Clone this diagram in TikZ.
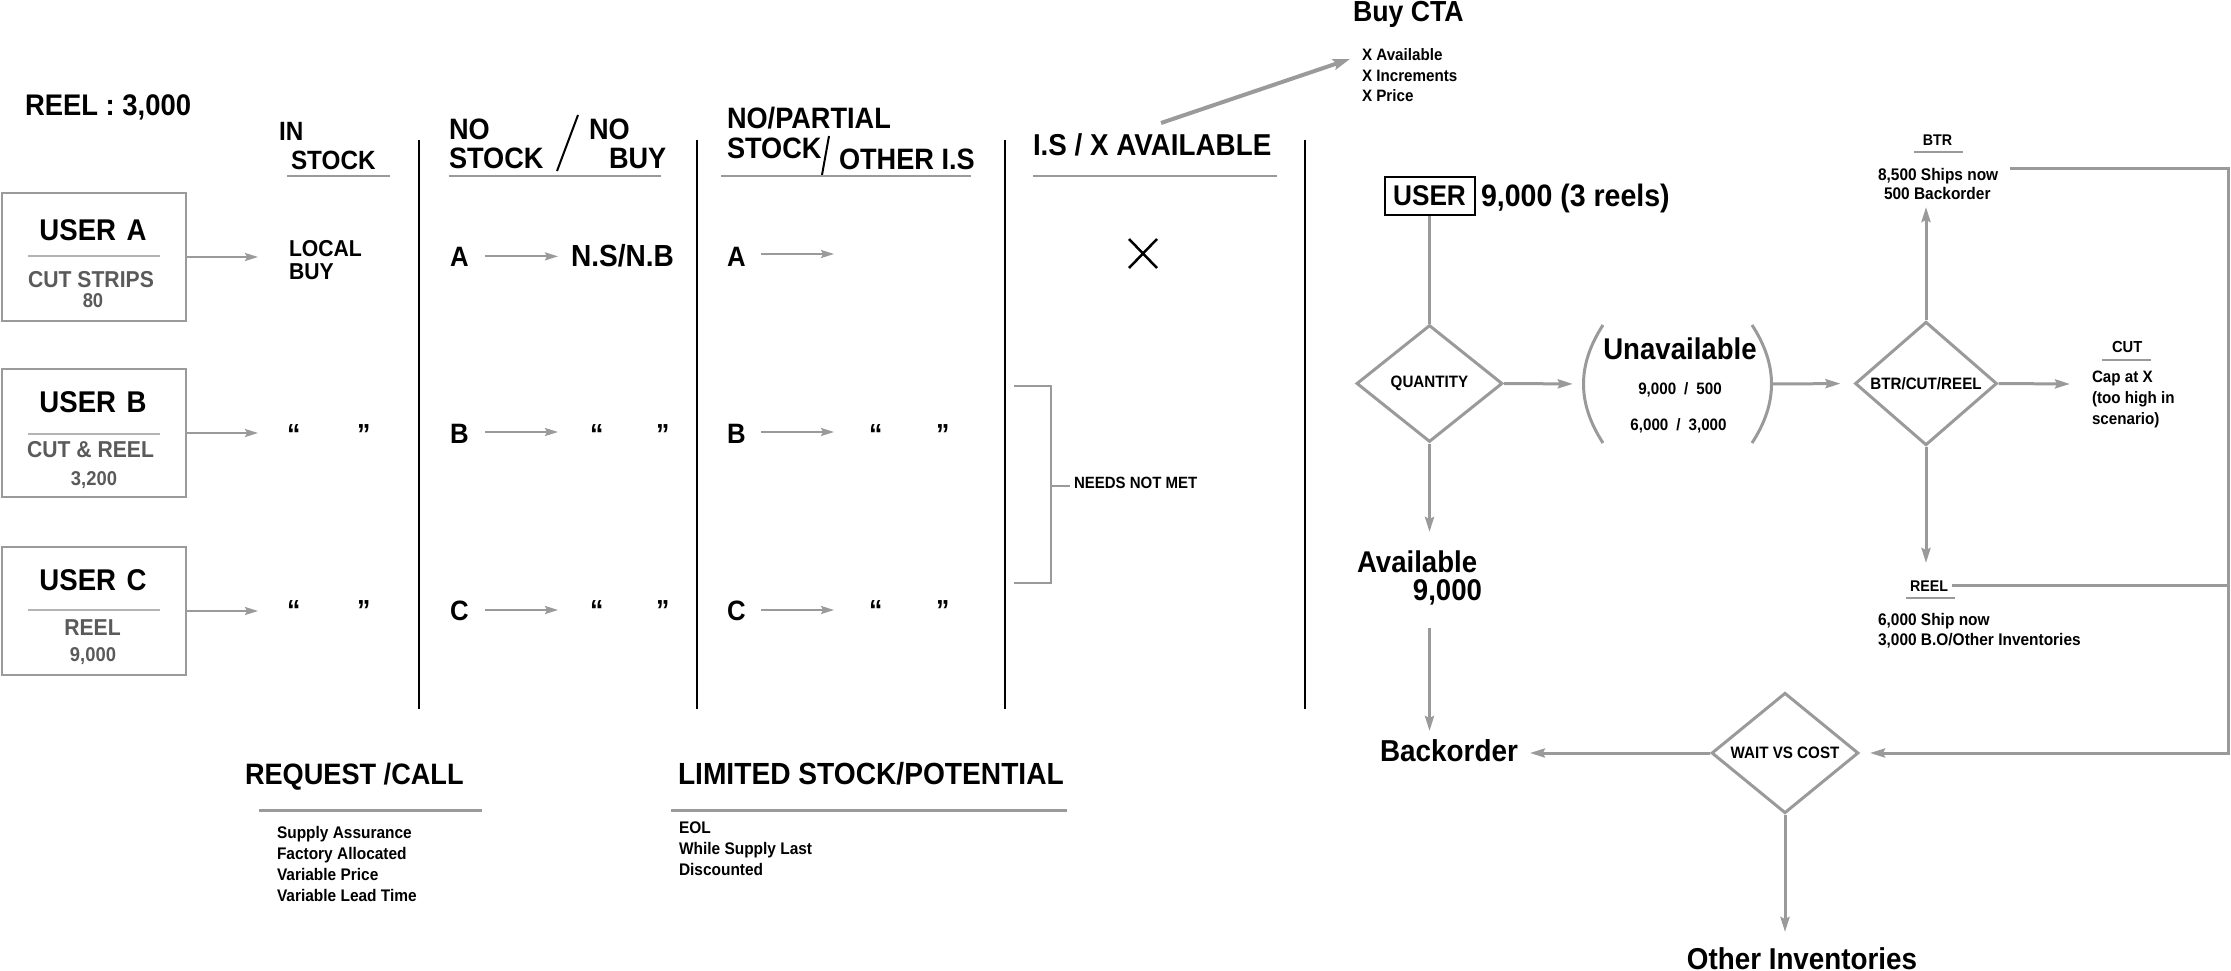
\documentclass[tikz,border=0pt]{standalone}
\usepackage{fontspec}
\setmainfont{Liberation Sans}[FakeStretch=0.92]
\usetikzlibrary{arrows.meta,shapes.geometric}
\definecolor{ln}{HTML}{9A9A9A}
\definecolor{gt}{HTML}{5A5A5A}
\definecolor{sp}{HTML}{B4B4B4}
\newcommand\fz[1]{\fontsize{#1}{#1}\selectfont\bfseries}
\tikzset{
 t/.style={inner sep=0pt,outer sep=0pt,anchor=base west},
 tc/.style={inner sep=0pt,outer sep=0pt,anchor=base},
 te/.style={inner sep=0pt,outer sep=0pt,anchor=base east},
 uline/.style={draw=ln,line width=2.5pt},
 sline/.style={draw=ln,line width=2pt},
 colline/.style={draw=black,line width=2.5pt},
 sarr/.style={draw=ln,line width=2pt,-{Stealth[length=13pt,width=8pt,inset=2pt]}},
 farr/.style={draw=ln,line width=3pt,-{Stealth[length=15pt,width=9pt,inset=2pt]}},
 fline/.style={draw=ln,line width=3pt},
 ubox/.style={draw=ln,line width=2.5pt,minimum width=184pt,minimum height=128pt,inner sep=0pt},
 dia/.style={diamond,draw=ln,line width=3pt,inner sep=0pt,font=\fz{16.5}},
}
\begin{document}
\begin{tikzpicture}[x=1pt,y=-1pt]
\useasboundingbox (0,0) rectangle (2231,971);

% ---------- left title and users ----------
\node[t,font=\fz{29.8}] (reel) at (25,116) {REEL : 3,000};

\node[ubox] (uA) at (94,257) {};
\node[tc,font=\fz{30}] (uAt) at (93,240) {USER\hspace{0.35em}A};
\draw[draw=sp,line width=1.5pt] (28,256) -- (160,256);
\node[tc,font=\fz{23},text=gt] (uAs) at (91,287) {CUT STRIPS};
\node[tc,font=\fz{20},text=gt] (uAn) at (93,307) {80};

\node[ubox] (uB) at (94,433) {};
\node[tc,font=\fz{30}] (uBt) at (93,412) {USER\hspace{0.35em}B};
\draw[draw=sp,line width=1.5pt] (28,434) -- (160,434);
\node[tc,font=\fz{23},text=gt] (uBs) at (90.5,457) {CUT \& REEL};
\node[tc,font=\fz{20},text=gt] (uBn) at (94,485) {3,200};

\node[ubox] (uC) at (94,611) {};
\node[tc,font=\fz{30}] (uCt) at (93,590) {USER\hspace{0.35em}C};
\draw[draw=sp,line width=1.5pt] (28,610) -- (160,610);
\node[tc,font=\fz{23},text=gt] (uCs) at (92.5,635) {REEL};
\node[tc,font=\fz{20},text=gt] (uCn) at (93,661) {9,000};

\coordinate (aA) at (258,257);
\coordinate (aB) at (258,433);
\coordinate (aC) at (258,611);
\draw[sarr] (uA.east) -- (aA);
\draw[sarr] (uB.east) -- (aB);
\draw[sarr] (uC.east) -- (aC);

% ---------- column 1: IN STOCK ----------
\node[t,font=\fz{26.4}] (in1) at (279,141) {IN};
\node[t,font=\fz{26.4}] (in2) at (291,170) {STOCK};
\draw[uline] (287,176) -- (390,176);
\node[t,font=\fz{23}] (lb1) at (289,256) {LOCAL};
\node[t,font=\fz{23}] (lb2) at (289,279) {BUY};
\node[t,font=\fz{29}] (q1a) at (287,444) {“};
\node[t,font=\fz{29}] (q1b) at (357,444) {”};
\node[t,font=\fz{29}] (q1c) at (287,620) {“};
\node[t,font=\fz{29}] (q1d) at (357,620) {”};

% column separators
\draw[colline] (419,140) -- (419,709);
\draw[colline] (697,140) -- (697,709);
\draw[colline] (1005,140) -- (1005,709);
\draw[colline] (1305,140) -- (1305,709);

% ---------- column 2: NO STOCK / NO BUY ----------
\node[t,font=\fz{29.5}] (h2a) at (449,140) {NO};
\node[t,font=\fz{29.5}] (h2b) at (449,168) {STOCK};
\draw[draw=black,line width=2pt] (578,115) -- (557,171);
\node[t,font=\fz{29.5}] (h2c) at (589,140) {NO};
\node[t,font=\fz{29.5}] (h2d) at (609,168) {BUY};
\draw[uline] (449,176) -- (661,176);

\node[t,font=\fz{28}] (a2) at (450,266) {A};
\node[t,font=\fz{30.5}] (ns) at (571,266) {N.S/N.B};
\draw[sarr] ([xshift=16pt]a2.east) -- ([xshift=-13pt]ns.west |- a2.east);
\node[t,font=\fz{28}] (b2) at (450,443) {B};
\coordinate (b2e) at (558,432);
\draw[sarr] (485,432) -- (b2e);
\node[t,font=\fz{29}] (q2a) at (590,444) {“};
\node[t,font=\fz{29}] (q2b) at (656,444) {”};
\node[t,font=\fz{28}] (c2) at (450,620) {C};
\coordinate (c2e) at (558,610);
\draw[sarr] (485,610) -- (c2e);
\node[t,font=\fz{29}] (q2c) at (590,620) {“};
\node[t,font=\fz{29}] (q2d) at (656,620) {”};

% ---------- column 3: NO/PARTIAL STOCK / OTHER I.S ----------
\node[t,font=\fz{29.5}] (h3a) at (727,129) {NO/PARTIAL};
\node[t,font=\fz{29.5}] (h3b) at (727,158.6) {STOCK};
\draw[draw=black,line width=2pt] (829,136) -- (822,175);
\node[t,font=\fz{29.5}] (h3c) at (839,169) {OTHER I.S};
\draw[uline] (721,176) -- (971,176);

\node[t,font=\fz{28}] (a3) at (727,266) {A};
\coordinate (a3e) at (834,254);
\draw[sarr] (761,254) -- (a3e);
\node[t,font=\fz{28}] (b3) at (727,443) {B};
\coordinate (b3e) at (834,432);
\draw[sarr] (761,432) -- (b3e);
\node[t,font=\fz{29}] (q3a) at (869,444) {“};
\node[t,font=\fz{29}] (q3b) at (936,444) {”};
\node[t,font=\fz{28}] (c3) at (727,620) {C};
\coordinate (c3e) at (834,610);
\draw[sarr] (761,610) -- (c3e);
\node[t,font=\fz{29}] (q3c) at (869,620) {“};
\node[t,font=\fz{29}] (q3d) at (936,620) {”};

% ---------- column 4: I.S / X AVAILABLE ----------
\node[t,font=\fz{30.2}] (h4) at (1033,155.5) {I.S / X AVAILABLE};
\draw[uline] (1033,176) -- (1277,176);
\draw[draw=black,line width=2.5pt] (1129,239) -- (1157,268) (1129,268) -- (1157,239);
\draw[sline] (1014,386) -- (1051,386) -- (1051,583) -- (1014,583);
\draw[sline] (1051,486) -- (1070,486);
\node[t,font=\fz{16.3}] (nnm) at (1074,488.5) {NEEDS NOT MET};

% ---------- Buy CTA ----------
\node[t,font=\fz{29}] (cta) at (1353,22) {Buy CTA};
\node[t,font=\fz{16.5}] (x1) at (1362,61) {X Available};
\node[t,font=\fz{16.5}] (x2) at (1362,82) {X Increments};
\node[t,font=\fz{16.5}] (x3) at (1362,102) {X Price};
\coordinate (ctaS) at (1161,123);
\coordinate (ctaE) at (1350,59);
\draw[draw=ln,line width=4pt,-{Stealth[length=17pt,width=11pt,inset=3pt]}] (ctaS) -- (ctaE);

% ---------- bottom left lists ----------
\node[t,font=\fz{29.5}] (rq) at (245,784) {REQUEST /CALL};
\draw[draw=ln,line width=3pt] (259,810) -- (482,810);
\node[t,font=\fz{16.8}] (r1) at (277,838) {Supply Assurance};
\node[t,font=\fz{16.8}] (r2) at (277,859) {Factory Allocated};
\node[t,font=\fz{16.8}] (r3) at (277,880) {Variable Price};
\node[t,font=\fz{16.8}] (r4) at (277,901) {Variable Lead Time};

\node[t,font=\fz{30.6}] (ls) at (678,784) {LIMITED STOCK/POTENTIAL};
\draw[draw=ln,line width=3pt] (671,810) -- (1067,810);
\node[t,font=\fz{16.8}] (l1) at (679,833) {EOL};
\node[t,font=\fz{16.8}] (l2) at (679,854) {While Supply Last};
\node[t,font=\fz{16.8}] (l3) at (679,875) {Discounted};

% ---------- right flowchart ----------
\node[draw=black,line width=2pt,minimum width=90pt,minimum height=38pt,inner sep=0pt,font=\fz{28.5}] (user) at (1429.5,196) {USER};
\node[t,font=\fz{31}] (userq) at (1481,207) {9,000 (3 reels)};

\node[dia,minimum width=146pt,minimum height=117pt] (quant) at (1429.5,383.5) {QUANTITY};
\draw[fline] (user.south) -- (quant.north);

\node[minimum width=189pt,minimum height=118pt,inner sep=0pt] (unav) at (1677.5,384) {};
\draw[fline] (1603,325) .. controls (1577,365) and (1577,403) .. (1603,443);
\draw[fline] (1752,325) .. controls (1778,365) and (1778,403) .. (1752,443);
\node[tc,font=\fz{30}] (unt) at (1680,359) {Unavailable};
\node[tc,font=\fz{16.5}] (un1) at (1680,394) {9,000\hspace{8pt}/\hspace{8pt}500};
\node[tc,font=\fz{16.5}] (un2) at (1678.5,430) {6,000\hspace{8pt}/\hspace{8pt}3,000};
\draw[farr,shorten >=10pt] (quant.east) -- (unav.west);

\node[dia,minimum width=142pt,minimum height=117pt] (btr) at (1926,383.5) {BTR/CUT/REEL};
\draw[farr,shorten >=13pt] (unav.east) -- (btr.west);

\node[t,font=\fz{30}] (avail) at (1357,572) {Available};
\node[te,font=\fz{30}] (avail9) at (1482,600) {9,000};
\coordinate (availE) at (1429.5,532);
\draw[farr] (quant.south) -- (availE);

\node[t,font=\fz{30.3}] (back) at (1380,761) {Backorder};
\coordinate (backS) at (1429.5,628);
\coordinate (backE) at (1429.5,731);
\draw[farr] (backS) -- (backE);

% BTR branch
\coordinate (btrE) at (1926,207);
\draw[farr] (btr.north) -- (btrE);
\node[tc,font=\fz{15.5}] (btrl) at (1937.5,146) {BTR};
\draw[sline] (1914,152) -- (1963,152);
\node[t,font=\fz{16.8}] (btr1) at (1878,180) {8,500 Ships now};
\node[t,font=\fz{16.8}] (btr2) at (1884,199) {500 Backorder};

% CUT branch
\coordinate (cutE) at (2070,384);
\draw[farr] (btr.east) -- (cutE);
\node[t,font=\fz{16}] (cutl) at (2112,352.6) {CUT};
\draw[sline] (2102,359.5) -- (2151,359.5);
\node[t,font=\fz{16.5}] (cut1) at (2092,382) {Cap at X};
\node[t,font=\fz{16.5}] (cut2) at (2092,403) {(too high in};
\node[t,font=\fz{16.5}] (cut3) at (2092,424) {scenario)};

% REEL branch
\coordinate (reelE) at (1926,563);
\draw[farr] (btr.south) -- (reelE);
\node[t,font=\fz{15.5}] (reell) at (1910,591) {REEL};
\draw[sline] (1906,597.5) -- (1955,597.5);
\node[t,font=\fz{16.8}] (reel1) at (1878,625) {6,000 Ship now};
\node[t,font=\fz{16.8}] (reel2) at (1878,645) {3,000 B.O/Other Inventories};

% WAIT VS COST
\node[dia,minimum width=147pt,minimum height=118pt] (wait) at (1785,753) {WAIT VS COST};
\draw[farr,shorten >=12pt] (wait.west) -- (back.east |- wait.west);
\coordinate (otherE) at (1785,932);
\draw[farr] (wait.south) -- (otherE);
\node[tc,font=\fz{30.2}] (other) at (1802,969) {Other Inventories};

% loop back from BTR and REEL
\coordinate (btrR) at (2010,169);
\coordinate (rc) at (2228,169);
\draw[farr,shorten >=10pt] (btrR) -- (rc) |- (wait.east);
\coordinate (reelR) at (1952,585);
\draw[fline] (reelR) -- (reelR -| rc);

\end{tikzpicture}
\end{document}
